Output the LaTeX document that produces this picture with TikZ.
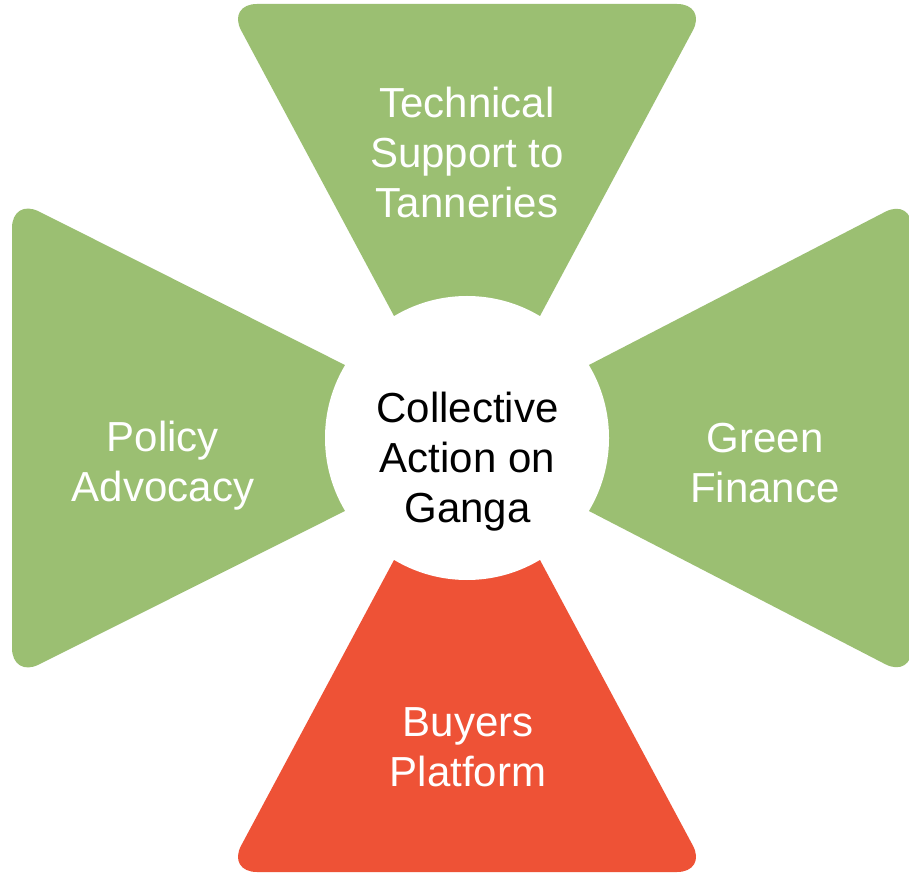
\documentclass[tikz,border=0pt]{standalone}
\usepackage{fontspec}
\setmainfont{Liberation Sans}
\definecolor{leafgreen}{HTML}{9BBF72}
\definecolor{buyred}{HTML}{EE5236}
\newcommand\petalshape[4]{% rotation, length, inner half width, colour
  \fill[#4,rounded corners=30pt,shift={(C)},rotate=#1]
    (-#3,80) -- (-240,#2) -- (240,#2) -- (#3,80) -- cycle;}
\begin{document}
\begin{tikzpicture}[x=1pt,y=1pt,
  lbl/.style={text=white,font=\fontsize{42}{50}\selectfont,align=center,inner sep=0pt},
  hubstyle/.style={circle,fill=white,minimum size=284pt,inner sep=0pt},
]
\useasboundingbox (0,0) rectangle (909,873);
\clip (0,0) rectangle (909,873);
\fill[white] (0,0) rectangle (909,873);
\coordinate (C) at (467,435);
\petalshape{0}{434}{50.5}{leafgreen}
\petalshape{90}{455}{51.9}{leafgreen}
\petalshape{180}{434}{50.5}{buyred}
\petalshape{-90}{445}{51.3}{leafgreen}
\node[hubstyle] (hub) at (C) {};
\node[lbl] (tech) at (467,720.3) {Technical\\Support to\\Tanneries};
\node[lbl] (policy) at (163,407) {Policy\\Advocacy};
\node[lbl] (finance) at (765,410.3) {Green\\Finance};
\node[lbl] (buyers) at (468,125.3) {Buyers\\Platform};
\node[lbl,text=black] (hubtext) at (467.5,411.4) {Collective\\Action on\\Ganga};
\end{tikzpicture}
\end{document}
